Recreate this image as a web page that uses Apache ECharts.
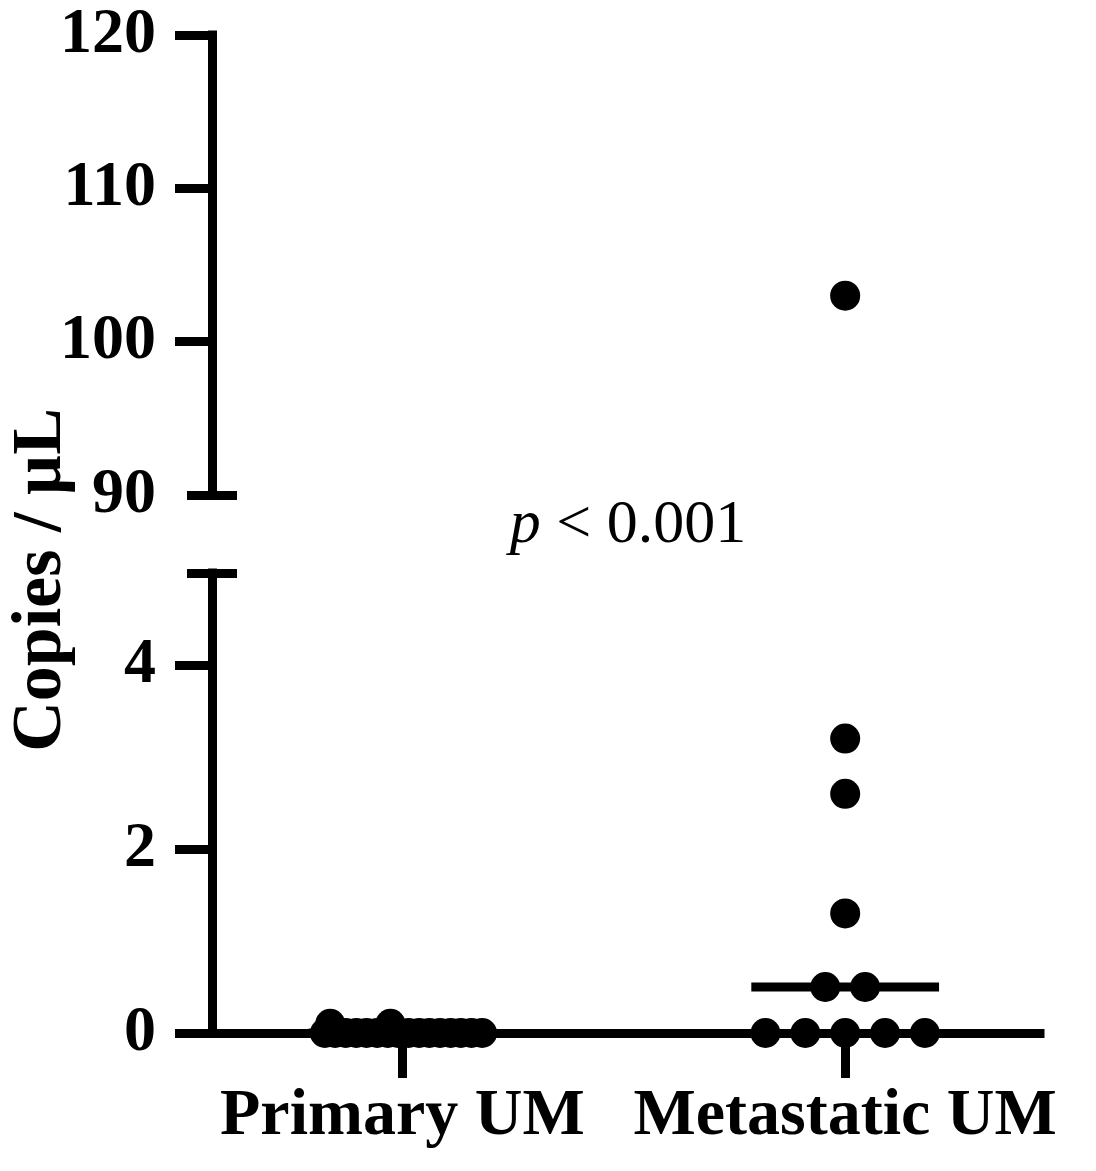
<!DOCTYPE html>
<html>
<head>
<meta charset="utf-8">
<script src="https://cdn.jsdelivr.net/npm/echarts@6/dist/echarts.min.js"></script>
<style>html,body{margin:0;padding:0;background:#fff}#c{width:1096px;height:1171px}</style>
</head>
<body>
<div id="c"></div>
<script>
// ---- data ----
const categories = ['Primary UM', 'Metastatic UM'];
const primaryValues = [0, 0, 0, 0, 0, 0, 0, 0, 0, 0, 0, 0, 0, 0, 0, 0, 0.1, 0.1];
const primaryJitter = [-0.175, -0.152, -0.128, -0.104, -0.081, -0.057, -0.033, -0.01, 0.014, 0.038, 0.061, 0.085, 0.109, 0.132, 0.156, 0.18, -0.163, -0.027];
const metastaticValues = [0, 0, 0, 0, 0, 0.5, 0.5, 1.3, 2.6, 3.2, 103];
const metastaticJitter = [-0.18, -0.09, 0, 0.09, 0.18, -0.045, 0.045, 0, 0, 0, 0];
const upperTicks = [90, 100, 110, 120];
const lowerTicks = [0, 2, 4];
const yTitle = 'Copies / µL';

// ---- helpers ----
const FONT = 'Liberation Serif';
const LW = 9;
function median(a) { const s = a.slice().sort((x, y) => x - y); const m = Math.floor(s.length / 2); return s.length % 2 ? s[m] : (s[m - 1] + s[m]) / 2; }
function pts(vals, jit, pos, lo, hi) {
  const out = [];
  vals.forEach((v, i) => { if (v >= lo && v <= hi) out.push([pos + jit[i], v]); });
  return out;
}
const groups = [[primaryValues, primaryJitter], [metastaticValues, metastaticJitter]];
const LOW_MAX = 5, UP_MIN = 90, UP_MAX = 120;
const HALF = 0.212;

const lowerScatter = [], upperScatter = [], medians = [];
groups.forEach((g, gi) => {
  const pos = gi + 1;
  lowerScatter.push(...pts(g[0], g[1], pos, 0, LOW_MAX));
  upperScatter.push(...pts(g[0], g[1], pos, UP_MIN, UP_MAX));
  const m = median(g[0]);
  medians.push([[pos - HALF, m], [pos + HALF, m]]);
});

const xMin = 0.57, xMax = 2.44;
const lineStyle = { color: '#000', width: LW, cap: 'square' };
const tickLineStyle = { color: '#000', width: LW };
const labelStyle = { color: '#000', fontFamily: FONT, fontWeight: 'bold', fontSize: 64 };

function breakAxis(grid, min, max, v, inside) {
  return {
    gridIndex: grid, type: 'value', min: min, max: max, position: 'left',
    axisLine: { show: false }, splitLine: { show: false }, axisLabel: { show: false },
    axisTick: { show: true, inside: inside, length: 25, customValues: [v], lineStyle: tickLineStyle }
  };
}

const option = {
  animation: false,
  backgroundColor: '#fff',
  grid: [
    { left: 212, top: 35, width: 828, height: 460 },
    { left: 212, top: 573, width: 828, height: 460 }
  ],
  xAxis: [
    { gridIndex: 0, type: 'value', min: xMin, max: xMax, show: false },
    { gridIndex: 1, type: 'value', min: xMin, max: xMax,
      axisLine: { show: true, onZero: false, lineStyle: lineStyle },
      splitLine: { show: false },
      axisTick: { show: true, length: 45, customValues: [1, 2], lineStyle: tickLineStyle },
      axisLabel: Object.assign({ margin: 51, customValues: [1, 2], formatter: v => categories[Math.round(v) - 1] }, labelStyle, { fontSize: 66 })
    }
  ],
  yAxis: [
    { gridIndex: 0, type: 'value', min: UP_MIN, max: UP_MAX, interval: 10, position: 'left',
      axisLine: { show: true, lineStyle: lineStyle }, splitLine: { show: false },
      axisTick: { show: true, length: 37, customValues: upperTicks.slice(1), lineStyle: tickLineStyle },
      axisLabel: Object.assign({ margin: 56, customValues: upperTicks }, labelStyle) },
    breakAxis(0, UP_MIN, UP_MAX, UP_MIN, false),
    breakAxis(0, UP_MIN, UP_MAX, UP_MIN, true),
    { gridIndex: 1, type: 'value', min: 0, max: LOW_MAX, interval: 1, position: 'left',
      axisLine: { show: true, lineStyle: lineStyle }, splitLine: { show: false },
      axisTick: { show: true, length: 37, customValues: lowerTicks, lineStyle: tickLineStyle },
      axisLabel: Object.assign({ margin: 56, customValues: lowerTicks }, labelStyle) },
    breakAxis(1, 0, LOW_MAX, LOW_MAX, false),
    breakAxis(1, 0, LOW_MAX, LOW_MAX, true)
  ],
  series: [
    ...medians.map(m => ({ type: 'line', xAxisIndex: 1, yAxisIndex: 3, data: m, symbol: 'none', clip: false,
      lineStyle: { color: '#000', width: LW }, z: 3 })),
    { type: 'scatter', xAxisIndex: 1, yAxisIndex: 3, data: lowerScatter, symbolSize: 30, clip: false,
      itemStyle: { color: '#000', opacity: 1 }, z: 4 },
    { type: 'scatter', xAxisIndex: 0, yAxisIndex: 0, data: upperScatter, symbolSize: 30, clip: false,
      itemStyle: { color: '#000', opacity: 1 }, z: 4 }
  ],
  graphic: [
    { type: 'text', x: 42, y: 580, rotation: Math.PI / 2,
      style: { text: yTitle, fill: '#000', font: 'bold 70px "' + FONT + '"', align: 'center', verticalAlign: 'middle' } },
    { type: 'text', x: 628, y: 526,
      style: { text: '{i|p} < 0.001', fill: '#000', align: 'center', verticalAlign: 'middle',
        rich: { i: { fontStyle: 'italic', fontFamily: FONT, fontSize: 62, fill: '#000' } },
        font: '62px "' + FONT + '"' } }
  ]
};
const chart = echarts.init(document.getElementById('c'), null, { renderer: 'canvas' });
chart.setOption(option);
</script>
</body>
</html>
